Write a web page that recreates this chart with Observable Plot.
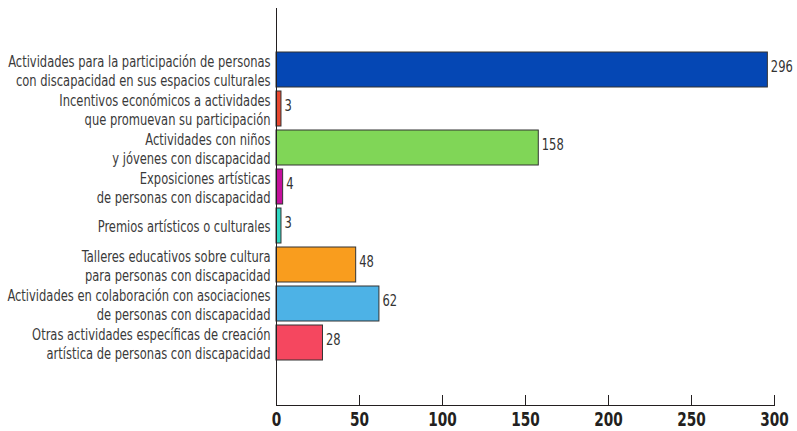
<!DOCTYPE html>
<html>
<head>
<meta charset="utf-8">
<script src="https://cdn.jsdelivr.net/npm/d3@7"></script>
<script src="https://cdn.jsdelivr.net/npm/@observablehq/plot@0.6"></script>
<style>
  html, body { margin: 0; padding: 0; background: #fff; }
  #chart svg { display: block; }
</style>
</head>
<body>
<div id="chart"></div>
<script>
const categories = [
  "Actividades para la participación de personas\ncon discapacidad en sus espacios culturales",
  "Incentivos económicos a actividades\nque promuevan su participación",
  "Actividades con niños\ny jóvenes con discapacidad",
  "Exposiciones artísticas\nde personas con discapacidad",
  "Premios artísticos o culturales",
  "Talleres educativos sobre cultura\npara personas con discapacidad",
  "Actividades en colaboración con asociaciones\nde personas con discapacidad",
  "Otras actividades específicas de creación\nartística de personas con discapacidad"
];
const values = [296, 3, 158, 4, 3, 48, 62, 28];
const colors = ["#0547b4", "#e8472e", "#80d657", "#c4109c", "#2fd8c4", "#f99d1e", "#4db2e6", "#f5475f"];
const xTicks = [0, 50, 100, 150, 200, 250, 300];

const data = categories.map((c, i) => ({category: c, value: values[i]}));

const fontFamily = "'DejaVu Sans Condensed', 'Liberation Sans Narrow', 'Roboto', sans-serif";

const chart = Plot.plot({
  width: 797,
  height: 431,
  marginLeft: 276,
  marginRight: 23,
  marginTop: 8,
  marginBottom: 26,
  style: {fontFamily, color: "#333", background: "#fff"},
  x: {domain: [0, 300]},
  y: {domain: categories, paddingInner: 0.1, paddingOuter: 1.04},
  color: {domain: categories, range: colors},
  marks: [
    Plot.barX(data, {x: "value", y: "category", fill: "category", stroke: "#333", strokeWidth: 1}),
    Plot.text(data, {x: "value", y: "category", text: d => String(d.value), dx: 3, dy: -3, textAnchor: "start", fontSize: 16, fill: "#333"}),
    Plot.ruleX([0], {stroke: "#231f20", strokeWidth: 1}),
    Plot.frame({anchor: "bottom", stroke: "#231f20", strokeWidth: 1}),
    Plot.tickX(xTicks, {x: d => d, insetTop: 387, stroke: "#231f20", strokeWidth: 1}),
    Plot.axisX({ticks: xTicks, tickSize: 0, tickPadding: 7, fontSize: 19, fontWeight: "bold", fill: "#231f20", label: null}),
    Plot.axisY({tickSize: 0, tickPadding: 6, fontSize: 16, lineHeight: 1.19, fill: "#3a3a3a", label: null})
  ]
});
// condense glyphs horizontally (the reference uses a condensed typeface)
chart.querySelectorAll("text").forEach(t => {
  t.setAttribute("transform", (t.getAttribute("transform") || "") + " scale(0.8,1)");
});
document.getElementById("chart").appendChild(chart);
</script>
</body>
</html>
